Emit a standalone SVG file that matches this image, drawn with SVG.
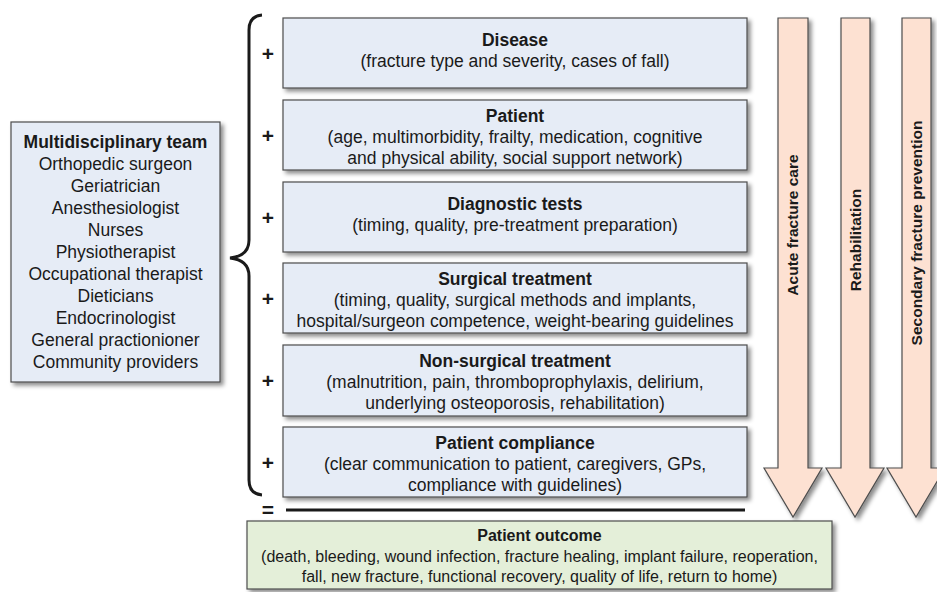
<svg xmlns="http://www.w3.org/2000/svg" width="937" height="592" viewBox="0 0 937 592">
<defs>
<filter id="sh" x="-10%" y="-10%" width="130%" height="130%">
<feDropShadow dx="3" dy="3" stdDeviation="2.2" flood-color="#000" flood-opacity="0.45"/>
</filter>
</defs>
<style>
.box{fill:#e6ecf6;stroke:#4d4d4d;stroke-width:1.2;filter:url(#sh)}
.out{fill:#e4efd9;stroke:#4d4d4d;stroke-width:1.2;filter:url(#sh)}
.arr{fill:#fde1d2;stroke:#4d4d4d;stroke-width:1.2;filter:url(#sh)}
text{font-family:"Liberation Sans",Arial,sans-serif;font-size:17.5px;fill:#1a1a1a;text-anchor:middle}
.b{font-weight:bold}
.t{font-size:17.5px}
.o{font-size:16px}
.a{font-weight:bold;font-size:15.5px}
.br{fill:none;stroke:#1a1a1a;stroke-width:3}
.op{font-weight:bold;font-size:21px}
</style>
<rect width="937" height="592" fill="#fff"/>

<g id="arrows">
<g id="arrow-acute">
<path class="arr" d="M778,18 H808 V468 H822 L793,517 L764,468 H778 Z"/>
<text class="a" transform="translate(798,225) rotate(-90)">Acute fracture care</text>
</g>
<g id="arrow-rehab">
<path class="arr" d="M841,18 H870 V468 H884 L855,517 L826,468 H841 Z"/>
<text class="a" transform="translate(861,240) rotate(-90)">Rehabilitation</text>
</g>
<g id="arrow-secondary">
<path class="arr" d="M902,18 H931 V468 H945 L916,517 L887,468 H902 Z"/>
<text class="a" transform="translate(922,233) rotate(-90)">Secondary fracture prevention</text>
</g>
</g>

<g id="team">
<rect class="box" x="11" y="122" width="209" height="260"/>
<text class="b t" x="115.5" y="148">Multidisciplinary team</text>
<text class="t" x="115.5" y="170">Orthopedic surgeon</text>
<text class="t" x="115.5" y="192">Geriatrician</text>
<text class="t" x="115.5" y="214">Anesthesiologist</text>
<text class="t" x="115.5" y="236">Nurses</text>
<text class="t" x="115.5" y="258">Physiotherapist</text>
<text class="t" x="115.5" y="280">Occupational therapist</text>
<text class="t" x="115.5" y="302">Dieticians</text>
<text class="t" x="115.5" y="324">Endocrinologist</text>
<text class="t" x="115.5" y="346">General practionioner</text>
<text class="t" x="115.5" y="368">Community providers</text>
</g>

<g id="connectors">
<path class="br" d="M262,15 Q249,16 249,30 V240 Q249,256 230,258 Q249,260 249,276 V480 Q249,494 262,495"/>
<text class="op" x="268" y="61">+</text>
<text class="op" x="268" y="143">+</text>
<text class="op" x="268" y="225">+</text>
<text class="op" x="268" y="306">+</text>
<text class="op" x="268" y="388">+</text>
<text class="op" x="268" y="470">+</text>
<text class="op" x="268" y="517">=</text>
<line x1="286" y1="510" x2="745" y2="510" stroke="#1a1a1a" stroke-width="3"/>
</g>

<g id="disease">
<rect class="box" x="283" y="18" width="464" height="70"/>
<text class="b" x="515" y="46">Disease</text>
<text x="515" y="67">(fracture type and severity, cases of fall)</text>
</g>
<g id="patient">
<rect class="box" x="283" y="100" width="464" height="70"/>
<text class="b" x="515" y="122">Patient</text>
<text x="515" y="143">(age, multimorbidity, frailty, medication, cognitive</text>
<text x="515" y="164">and physical ability, social support network)</text>
</g>
<g id="diagnostic">
<rect class="box" x="283" y="182" width="464" height="70"/>
<text class="b" x="515" y="210">Diagnostic tests</text>
<text x="515" y="231">(timing, quality, pre-treatment preparation)</text>
</g>
<g id="surgical">
<rect class="box" x="283" y="263" width="464" height="70"/>
<text class="b" x="515" y="285">Surgical treatment</text>
<text x="515" y="306">(timing, quality, surgical methods and implants,</text>
<text x="515" y="327">hospital/surgeon competence, weight-bearing guidelines</text>
</g>
<g id="nonsurgical">
<rect class="box" x="283" y="345" width="464" height="71"/>
<text class="b" x="515" y="367">Non-surgical treatment</text>
<text x="515" y="388">(malnutrition, pain, thromboprophylaxis, delirium,</text>
<text x="515" y="409">underlying osteoporosis, rehabilitation)</text>
</g>
<g id="compliance">
<rect class="box" x="283" y="427" width="464" height="70"/>
<text class="b" x="515" y="449">Patient compliance</text>
<text x="515" y="470">(clear communication to patient, caregivers, GPs,</text>
<text x="515" y="491">compliance with guidelines)</text>
</g>

<g id="outcome">
<rect class="out" x="247" y="521" width="585" height="68"/>
<text class="b o" x="539.5" y="541">Patient outcome</text>
<text class="o" x="539.5" y="562">(death, bleeding, wound infection, fracture healing, implant failure, reoperation,</text>
<text class="o" x="539.5" y="582">fall, new fracture, functional recovery, quality of life, return to home)</text>
</g>
</svg>
